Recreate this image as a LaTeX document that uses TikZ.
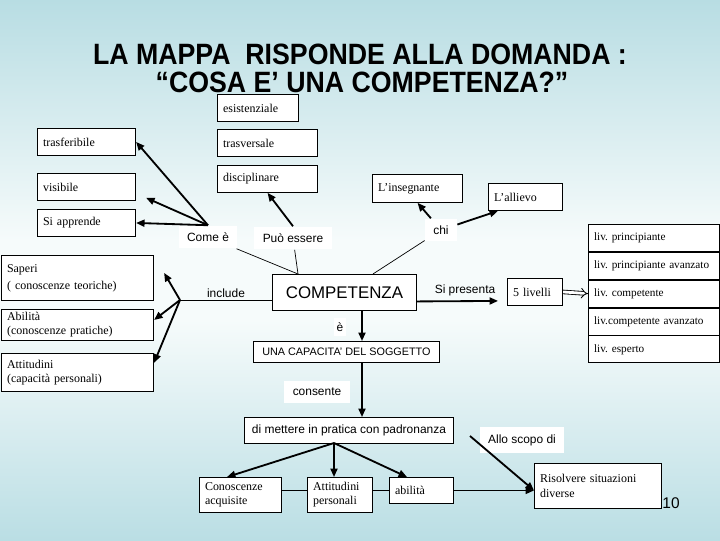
\documentclass[tikz,border=0pt]{standalone}
\usepackage{fontspec}
\setmainfont{Liberation Serif}
\setsansfont{Liberation Sans}
\usepackage{graphicx}
\usetikzlibrary{positioning,arrows.meta,calc}
\definecolor{bgtop}{RGB}{184,221,227}
\definecolor{bgmid}{RGB}{246,251,251}
\definecolor{bgbot}{RGB}{186,222,228}
\frenchspacing

\begin{document}
\begin{tikzpicture}[
    x=0.025cm, y=-0.025cm,
    every node/.style={inner sep=0pt},
    box/.style={draw, fill=white, line width=0.6pt, anchor=north west, align=left,
                inner xsep=4pt, inner ysep=1pt,
                font=\rmfamily\fontsize{8.5}{10}\selectfont},
    sbox/.style={draw, fill=white, line width=0.6pt, anchor=north west, align=center},
    lvbox/.style={box, text width=3cm, minimum height=0.675cm,
                  font=\rmfamily\fontsize{8}{10}\selectfont},
    lab/.style={fill=white, inner xsep=6pt, inner ysep=5pt,
                font=\sffamily\fontsize{8.5}{10}\selectfont},
    plain/.style={font=\sffamily\fontsize{8.5}{10}\selectfont},
    title/.style={font=\sffamily\bfseries\fontsize{19}{22}\selectfont},
    arr/.style={-{Triangle[length=6pt,width=5pt]}, line width=1.3pt},
    link/.style={line width=0.5pt},
]
% Background
\useasboundingbox (0,0) rectangle (720,540);
\shade[top color=bgtop, bottom color=bgmid] (0,0) rectangle (720,240);
\fill[bgmid] (0,239) rectangle (720,321);
\shade[top color=bgmid, bottom color=bgbot] (0,320) rectangle (720,540);

% Title
\node[title] (title1) at (360,54) {\scalebox{1}[1.1]{LA MAPPA\ \ RISPONDE ALLA DOMANDA :}};
\node[title] (title2) at (362,82) {\scalebox{1}[1.1]{“COSA E’ UNA COMPETENZA?”}};

% Boxes, top
\node[box, text width=1.75cm, minimum height=0.675cm] (esist) at (217,94) {esistenziale};
\node[box, text width=2.225cm, minimum height=0.675cm] (trasv) at (217,129) {trasversale};
\node[box, text width=2.225cm, minimum height=0.675cm] (disc) at (217,165) {disciplinare};
\node[box, text width=2.175cm, minimum height=0.675cm] (trasf) at (37,128) {trasferibile};
\node[box, text width=2.175cm, minimum height=0.675cm] (visib) at (37,173) {visibile};
\node[box, text width=2.175cm, minimum height=0.675cm] (appr) at (37,209) {Si apprende};
\node[box, text width=1.975cm, minimum height=0.7cm] (insegn) at (372,174) {L’insegnante};
\node[box, text width=1.575cm, minimum height=0.675cm] (alliev) at (488,183) {L’allievo};

% Boxes, left
\node[box, text width=3.525cm, minimum height=1.125cm] (saperi) at (1,255)
    {Saperi\\[2pt]( conoscenze teoriche)};
\node[box, text width=3.525cm, minimum height=0.775cm] (abil) at (1,309)
    {Abilità\\(conoscenze pratiche)};
\node[box, text width=3.525cm, minimum height=0.95cm] (attit) at (1,353)
    {Attitudini\\(capacità personali)};

% Centre
\node[sbox, minimum width=3.6cm, minimum height=0.9cm,
      font=\sffamily\fontsize{12}{14}\selectfont] (compet) at (272,274) {COMPETENZA};
\node[sbox, minimum width=4.65cm, minimum height=0.525cm,
      font=\sffamily\fontsize{7.7}{9}\selectfont] (capac) at (253,341) {UNA CAPACITA' DEL SOGGETTO};
\node[sbox, minimum width=5.225cm, minimum height=0.65cm,
      font=\sffamily\fontsize{8.5}{10}\selectfont] (mettere) at (244,417) {di mettere in pratica con padronanza};

% Levels
\node[box, text width=1.1cm, minimum height=0.675cm] (liv5) at (507,278) {5 livelli};
\node[lvbox] (lv1) at (588,224) {liv. principiante};
\node[lvbox, below=0pt of lv1] (lv2) {liv. principiante avanzato};
\node[lvbox, below=0pt of lv2] (lv3) {liv. competente};
\node[lvbox, below=0pt of lv3] (lv4) {liv.competente avanzato};
\node[lvbox, below=0pt of lv4] (lv5) {liv. esperto};

% Boxes, bottom
\node[box, text width=1.775cm, minimum height=0.875cm] (conosc) at (199,477) {Conoscenze\\acquisite};
\node[box, text width=1.35cm, minimum height=0.875cm] (attpers) at (307,477) {Attitudini\\personali};
\node[box, text width=1.325cm, minimum height=0.65cm] (abilp) at (389,477) {abilità};
\node[box, text width=2.9cm, minimum height=1.125cm] (risolv) at (534,463) {Risolvere situazioni\\diverse};
\node[font=\sffamily\fontsize{11}{12}\selectfont] (pagenum) at (671,503) {10};

% Labels
\node[lab] (come) at (208,237) {Come è};
\node[lab] (puo) at (293,238) {Può essere};
\node[lab] (chi) at (441,230) {chi};
\node[plain] (incl) at (226,293) {include};
\node[plain] (sipres) at (465,290) {Si presenta};
\node[lab, inner xsep=2pt, inner ysep=3pt] (ee) at (340,327) {è};
\node[lab] (cons) at (317,392) {consente};
\node[lab] (scopo) at (522,440) {Allo scopo di};

% Connectors
\coordinate (meet) at (298,274);
\coordinate (branch) at (180,300);
\coordinate (axis) at (362,0);
\coordinate (fork) at (334,443);
\coordinate (scopost) at (470,436);

\draw[arr] (come.north) -- (trasf.east);
\draw[arr] (come.north) -- ($(visib.south east)+(10,-3)$);
\draw[arr] (come.north) -- (appr.east);
\draw[link] (come) -- (meet);
\draw[link] (puo) -- (meet);
\draw[arr] (puo.north) -- (disc.south);
\draw[arr] (chi) -- (insegn.south);
\draw[arr] (chi) -- ($(alliev.south west)+(10,0)$);
\draw[link] (chi) -- (compet);
\draw[link] (branch -| compet.west) -- (branch);
\draw[arr] (branch) -- ($(saperi.east)+(10,-5)$);
\draw[arr] (branch) -- ($(abil.east)+(0,-5)$);
\draw[arr] (branch) -- ($(attit.north east)!0.25!(attit.south east)$);
\draw[arr] ($(compet.east)+(0,9)$) -- ($(liv5.west)+(-9,9)$);
\draw[double, double distance=2pt, line width=0.6pt, -{Implies}] (liv5.east) -- (lv3.west);
\draw[arr] (compet.south -| axis) -- (capac.north -| axis);
\draw[arr] (capac.south -| axis) -- (mettere.north -| axis);
\draw[arr] (fork) -- ($(conosc.north west)+(28,0)$);
\draw[arr] (fork) -- (attpers.north -| fork);
\draw[arr] (fork) -- ($(abilp.north west)+(18,0)$);
\draw[link] (conosc.east |- abilp.west) -- (attpers.west |- abilp.west);
\draw[link] (attpers.east |- abilp.west) -- (abilp.west);
\draw[arr] (abilp.east) -- (risolv.west |- abilp.east);
\draw[arr] (scopost) -- (risolv.west |- abilp.east);
\end{tikzpicture}
\end{document}
